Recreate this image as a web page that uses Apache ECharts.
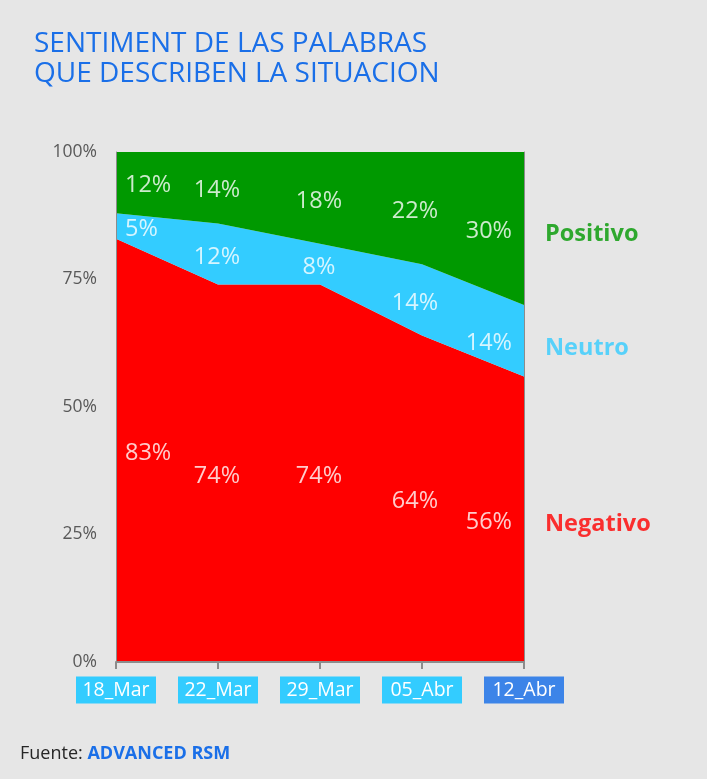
<!DOCTYPE html>
<html>
<head>
<meta charset="utf-8">
<script src="https://cdn.jsdelivr.net/npm/echarts@6/dist/echarts.min.js"></script>
<style>
html,body{margin:0;padding:0;background:#e6e6e6;}
#c{width:707px;height:779px;}
</style>
</head>
<body>
<div id="c"></div>
<script>
var categories = ['18_Mar','22_Mar','29_Mar','05_Abr','12_Abr'];
var negativo = [83, 74, 74, 64, 56];
var neutro = [5, 12, 8, 14, 14];
var positivo = [12, 14, 18, 22, 30];
var seriesNames = ['Negativo', 'Neutro', 'Positivo'];
var yTicks = [0, 25, 50, 75, 100];

var colors = ['#ff0000', '#33ccff', '#009900'];
var nameOffsets = [5, 8, 6];
var FONT = 'Open Sans';

var valuesList = [negativo, neutro, positivo];

function centers(idx) {
  return categories.map(function (c, i) {
    var base = 0;
    for (var k = 0; k < idx; k++) base += valuesList[k][i];
    return base + valuesList[idx][i] / 2;
  });
}

var series = [];
valuesList.forEach(function (vals, idx) {
  series.push({
    name: seriesNames[idx],
    type: 'line',
    stack: 'total',
    data: vals,
    symbol: 'none',
    lineStyle: { width: 0 },
    areaStyle: { color: colors[idx], opacity: 1 },
    itemStyle: { color: colors[idx] },
    z: 2
  });
});

valuesList.forEach(function (vals, idx) {
  var c = centers(idx);
  series.push({
    type: 'scatter',
    symbolSize: 0,
    silent: true,
    z: 5,
    data: c.map(function (v, i) {
      var lab = { show: true, formatter: vals[i] + '%' };
      if (i === 0) { lab.position = 'insideLeft'; lab.align = 'left'; lab.offset = [4, 3]; }
      else if (i === categories.length - 1) { lab.position = 'insideRight'; lab.align = 'right'; lab.offset = [-7, 3]; }
      else if (i === 3) { lab.offset = [-7, 3]; }
      else { lab.offset = [-1, 3]; }
      return { value: [categories[i], v], label: lab };
    }),
    label: {
      show: true,
      position: 'inside',
      color: '#ffffff',
      fontSize: 23.5,
      fontFamily: FONT
    }
  });
  series.push({
    type: 'scatter',
    symbolSize: 0,
    silent: true,
    z: 5,
    data: [[categories[categories.length - 1], c[c.length - 1]]],
    label: {
      show: true,
      position: 'right',
      distance: 21,
      offset: [0, nameOffsets[idx]],
      formatter: seriesNames[idx],
      color: colors[idx],
      fontSize: 23.5,
      fontWeight: 'bold',
      fontFamily: FONT
    }
  });
});

var chart = echarts.init(document.getElementById('c'), null, { renderer: 'canvas' });
chart.setOption({
  backgroundColor: '#e6e6e6',
  animation: false,
  title: {
    text: 'SENTIMENT DE LAS PALABRAS\nQUE DESCRIBEN LA SITUACION',
    left: 29,
    top: 24,
    textStyle: {
      color: '#1a6fe8',
      fontSize: 28,
      fontWeight: 'normal',
      lineHeight: 30,
      fontFamily: FONT
    }
  },
  graphic: [{
    type: 'text',
    left: 20,
    top: 745,
    style: {
      text: '{a|Fuente: }{b|ADVANCED RSM}',
      rich: {
        a: { fontSize: 18, fill: '#262626', fontFamily: FONT },
        b: { fontSize: 18, fill: '#1a6fe8', fontWeight: 'bold', fontFamily: FONT }
      }
    }
  }],
  grid: { left: 116, right: 183, top: 152, bottom: 117 },
  xAxis: {
    type: 'category',
    data: categories,
    boundaryGap: false,
    axisLine: { show: true, lineStyle: { color: '#8c8c8c', width: 2 } },
    axisTick: { show: true, length: 7, lineStyle: { color: '#8c8c8c', width: 2 } },
    axisLabel: {
      margin: 18,
      interval: 0,
      formatter: function (v, i) {
        return (i === categories.length - 1 ? '{b|' : '{a|') + v + '}';
      },
      rich: {
        a: { backgroundColor: '#33ccff', color: '#ffffff', fontSize: 19.5, fontFamily: FONT, width: 68, align: 'center', padding: [4, 6, 3, 6], lineHeight: 20 },
        b: { backgroundColor: '#3c84e8', color: '#ffffff', fontSize: 19.5, fontFamily: FONT, width: 68, align: 'center', padding: [4, 6, 3, 6], lineHeight: 20 }
      }
    },
    splitLine: { show: false },
    z: 10
  },
  yAxis: [{
    type: 'value',
    min: yTicks[0],
    max: yTicks[yTicks.length - 1],
    interval: 25,
    axisLine: { show: true, lineStyle: { color: '#8c8c8c', width: 1 } },
    axisTick: { show: false },
    splitLine: { show: false },
    axisLabel: {
      formatter: '{value}%',
      color: '#595959',
      fontSize: 17.5,
      fontFamily: FONT,
      margin: 19
    },
    z: 10
  }, {
    type: 'value',
    position: 'right',
    min: 0, max: 100, interval: 25,
    axisLine: { show: true, lineStyle: { color: '#8c8c8c', width: 1 } },
    axisTick: { show: false },
    axisLabel: { show: false },
    splitLine: { show: false },
    z: 10
  }],
  series: series
});
</script>
</body>
</html>
